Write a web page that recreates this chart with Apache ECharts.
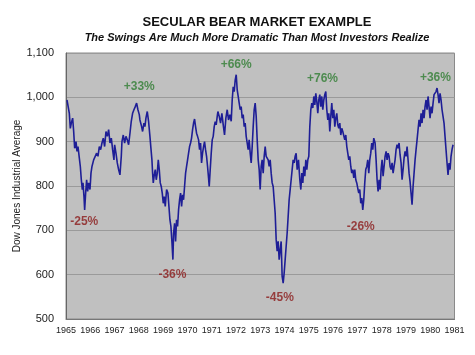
<!DOCTYPE html>
<html><head><meta charset="utf-8">
<script src="https://cdn.jsdelivr.net/npm/echarts@6/dist/echarts.min.js"></script>
<style>html,body{margin:0;padding:0;background:#fff}#c{width:475px;height:355px}</style>
</head><body><div id="c"></div>
<script>
// Dow Jones Industrial Average as [year, value]
const swing1 = [[1965.041,994],[1965.082,991],[1965.137,964],[1965.178,930],[1965.219,942],[1965.274,953],[1965.316,923],[1965.357,885],[1965.412,900],[1965.453,878],[1965.494,889],[1965.549,863],[1965.590,844],[1965.631,814],[1965.672,792],[1965.700,807],[1965.741,776],[1965.768,746],[1965.809,784],[1965.850,814],[1965.892,788],[1965.933,807],[1965.988,792],[1966.029,829],[1966.070,844],[1966.139,859],[1966.207,855],[1966.262,874],[1966.317,867],[1966.372,889],[1966.427,882],[1966.481,897],[1966.536,908],[1966.591,889],[1966.646,923],[1966.701,912],[1966.756,927],[1966.811,897],[1966.866,908],[1966.920,882],[1966.975,859],[1967.003,893],[1967.058,874],[1967.112,852],[1967.167,837],[1967.222,825],[1967.277,867],[1967.304,900],[1967.359,915],[1967.414,897],[1967.469,912],[1967.524,904],[1967.579,893],[1967.634,919],[1967.688,946],[1967.743,964],[1967.798,972],[1967.853,979],[1967.908,987],[1967.963,972],[1968.018,961]];
const swing2 = [[1968.045,949],[1968.114,934],[1968.155,923],[1968.210,942],[1968.251,934],[1968.292,953],[1968.347,968],[1968.402,945],[1968.457,912],[1968.498,885],[1968.539,859],[1968.567,829],[1968.594,807],[1968.635,825],[1968.676,837],[1968.717,814],[1968.759,829],[1968.800,859],[1968.841,837],[1968.882,807],[1968.923,799],[1968.964,784],[1969.006,761],[1969.047,776],[1969.088,754],[1969.143,792],[1969.198,784],[1969.239,754],[1969.280,724],[1969.321,709],[1969.362,675],[1969.403,634],[1969.431,694],[1969.472,716],[1969.513,675],[1969.554,724],[1969.595,709],[1969.636,746],[1969.678,769],[1969.719,784],[1969.760,754],[1969.801,780],[1969.842,769],[1969.883,799],[1969.925,829],[1969.966,844],[1970.007,859],[1970.048,874],[1970.089,889],[1970.130,897],[1970.171,908],[1970.213,927],[1970.254,942],[1970.295,951],[1970.336,934],[1970.377,919],[1970.418,912],[1970.460,904],[1970.501,882],[1970.542,897],[1970.583,852],[1970.624,874],[1970.665,889],[1970.706,900],[1970.747,882],[1970.789,867],[1970.830,844],[1970.871,818],[1970.898,799],[1970.939,837],[1970.981,874],[1971.022,904],[1971.063,912],[1971.104,934],[1971.145,945],[1971.186,938],[1971.228,957]];
const swing3 = [[1971.255,968],[1971.310,957],[1971.365,942],[1971.420,964],[1971.475,938],[1971.529,915],[1971.584,953],[1971.639,972],[1971.694,949],[1971.749,961],[1971.804,946],[1971.845,994],[1971.886,1024],[1971.927,1013],[1971.968,1039],[1972.010,1051],[1972.051,1017],[1972.092,1002],[1972.133,987],[1972.174,972],[1972.215,979],[1972.256,953],[1972.298,961],[1972.339,934],[1972.380,942],[1972.421,912],[1972.462,897],[1972.503,882],[1972.544,904],[1972.586,874],[1972.627,852],[1972.668,889],[1972.709,934],[1972.750,972],[1972.791,987],[1972.833,957],[1972.874,904],[1972.915,859],[1972.956,837],[1972.997,792],[1973.038,844],[1973.079,859],[1973.121,829],[1973.162,867],[1973.203,889],[1973.244,867],[1973.285,870],[1973.326,859],[1973.367,844],[1973.409,859],[1973.450,829],[1973.491,807],[1973.532,799],[1973.573,769],[1973.614,739],[1973.656,679],[1973.697,653],[1973.738,675],[1973.779,634],[1973.820,656],[1973.861,675],[1973.902,596],[1973.944,581],[1973.985,604],[1974.026,634],[1974.067,664],[1974.108,694],[1974.149,731],[1974.190,769],[1974.232,792],[1974.273,814],[1974.314,837],[1974.355,859],[1974.396,852],[1974.437,867],[1974.478,874]];
const swing4 = [[1974.520,837],[1974.575,859],[1974.630,814],[1974.671,792],[1974.712,829],[1974.753,807],[1974.794,844],[1974.835,822],[1974.877,859],[1974.918,837],[1974.959,859],[1975.000,867],[1975.041,934],[1975.082,972],[1975.123,987],[1975.165,976],[1975.206,1002],[1975.247,983],[1975.288,1009],[1975.329,991],[1975.370,964],[1975.411,994],[1975.453,1006],[1975.494,979],[1975.535,1002],[1975.576,972],[1975.617,994],[1975.658,1006],[1975.699,1013],[1975.741,972],[1975.782,949],[1975.823,964],[1975.864,923],[1975.905,957],[1975.946,987],[1975.988,953],[1976.029,972],[1976.070,934],[1976.111,953],[1976.152,964],[1976.193,938],[1976.234,930],[1976.276,942],[1976.317,915],[1976.358,930],[1976.399,923],[1976.440,927],[1976.481,904],[1976.523,915],[1976.564,889],[1976.605,874],[1976.646,859],[1976.687,867],[1976.728,844],[1976.769,829],[1976.811,837],[1976.852,818],[1976.893,837],[1976.934,814],[1976.975,807],[1977.016,795],[1977.057,784],[1977.099,792],[1977.140,761],[1977.181,773],[1977.222,746],[1977.263,769],[1977.304,807],[1977.345,837],[1977.387,844],[1977.428,859],[1977.469,829],[1977.510,859],[1977.551,874],[1977.592,897],[1977.634,882]];
const swing5 = [[1977.675,908],[1977.730,897],[1977.771,859],[1977.812,814],[1977.853,788],[1977.894,814],[1977.936,792],[1977.977,837],[1978.018,859],[1978.059,822],[1978.100,844],[1978.141,867],[1978.183,878],[1978.224,859],[1978.265,874],[1978.306,867],[1978.347,844],[1978.388,837],[1978.429,852],[1978.471,829],[1978.512,844],[1978.553,859],[1978.594,882],[1978.635,893],[1978.676,885],[1978.717,897],[1978.759,870],[1978.800,852],[1978.841,814],[1978.882,837],[1978.923,863],[1978.964,878],[1979.006,867],[1979.047,889],[1979.088,859],[1979.129,829],[1979.170,810],[1979.211,784],[1979.252,758],[1979.294,799],[1979.335,829],[1979.376,859],[1979.417,882],[1979.458,904],[1979.499,927],[1979.540,949],[1979.582,934],[1979.623,964],[1979.664,942],[1979.705,972],[1979.746,953],[1979.787,979],[1979.829,994],[1979.870,972],[1979.911,1002],[1979.952,979],[1979.993,953],[1980.034,979],[1980.075,964],[1980.117,987],[1980.158,1006],[1980.199,1002],[1980.240,1013],[1980.281,1021],[1980.322,1006],[1980.363,987],[1980.405,1009],[1980.446,994],[1980.487,972],[1980.528,957],[1980.569,942],[1980.610,912],[1980.651,882],[1980.693,852],[1980.734,825],[1980.775,852],[1980.816,837],[1980.857,867],[1980.898,882],[1980.940,893]];

// swing annotations
const swingLabels = ['-25%','+33%','-36%','+66%','-45%','+76%','-26%','+36%'];
const swingYears  = [1965.753,1968.016,1969.383,1972.008,1973.807,1975.564,1977.140,1980.214];
const swingValues = [720,1023,600,1073,547,1043,709,1045];

// axis ticks
const yearTicks = [1965,1966,1967,1968,1969,1970,1971,1972,1973,1974,1975,1976,1977,1978,1979,1980,1981];
const valueTicks = [500,600,700,800,900,1000,1100];

const FONT = '"Liberation Sans", Arial, sans-serif';
const dow = [].concat(swing1, swing2, swing3, swing4, swing5);
const labelData = swingLabels.map((t, i) => ({
  value: [swingYears[i], swingValues[i]],
  label: { formatter: t, color: t[0] === '+' ? '#2f7d32' : '#8b1a1a' }
}));

const chart = echarts.init(document.getElementById('c'), null, { renderer: 'canvas' });
chart.setOption({
  animation: false,
  backgroundColor: '#ffffff',
  title: [
    { text: 'SECULAR BEAR MARKET EXAMPLE', left: 252, top: 11, textAlign: 'center',
      textStyle: { fontFamily: FONT, fontSize: 13, fontWeight: 'bold', color: '#111' } },
    { text: 'The Swings Are Much More Dramatic Than Most Investors Realize', left: 252, top: 27, textAlign: 'center',
      textStyle: { fontFamily: FONT, fontSize: 11, fontWeight: 'bold', fontStyle: 'italic', color: '#111' } }
  ],
  grid: { left: 66, right: 20.5, top: 53, bottom: 36, show: true, backgroundColor: '#c0c0c0',
    borderColor: '#8a8a8a', borderWidth: 1, containLabel: false, outerBoundsMode: 'none' },
  xAxis: {
    type: 'value', min: yearTicks[0], max: yearTicks[yearTicks.length - 1], interval: 1,
    axisLine: { show: true, lineStyle: { color: '#777', width: 1 } },
    axisTick: { show: false },
    splitLine: { show: false },
    axisLabel: { fontFamily: FONT, fontSize: 9, color: '#222', margin: 7, formatter: v => String(v) }
  },
  yAxis: {
    type: 'value', min: valueTicks[0], max: valueTicks[valueTicks.length - 1], interval: 100,
    name: 'Dow Jones Industrial Average', nameLocation: 'middle', nameGap: 44, nameMoveOverlap: false,
    nameTextStyle: { fontFamily: FONT, fontSize: 10, color: '#222' },
    axisLine: { show: true, lineStyle: { color: '#666', width: 1 } },
    axisTick: { show: false },
    splitLine: { show: true, lineStyle: { color: '#9a9a9a', width: 1 } },
    axisLabel: { fontFamily: FONT, fontSize: 11, color: '#222', margin: 12,
      formatter: v => v.toLocaleString('en-US') }
  },
  series: [
    { type: 'line', data: dow, showSymbol: false, symbol: 'none',
      lineStyle: { color: '#1e1e96', width: 1.6 }, z: 3 },
    { type: 'scatter', data: labelData, symbolSize: 1, itemStyle: { color: 'rgba(0,0,0,0)' },
      label: { show: true, position: 'inside', fontFamily: FONT, fontSize: 12, fontWeight: 'bold' }, z: 4 }
  ]
});
</script></body></html>
